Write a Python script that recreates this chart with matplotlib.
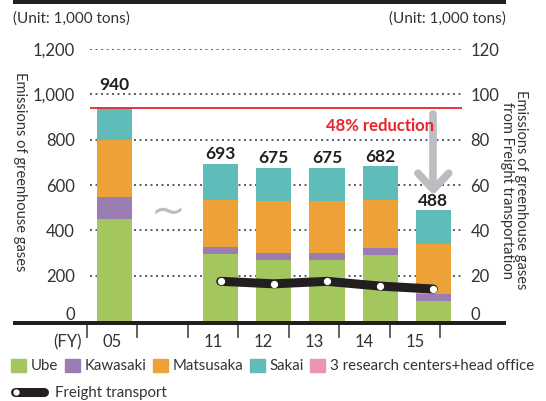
import matplotlib
matplotlib.use("Agg")
import matplotlib.pyplot as plt
import numpy as np
from matplotlib.patches import Patch, Rectangle
from matplotlib.lines import Line2D
from matplotlib.legend_handler import HandlerBase
import matplotlib.transforms as mtransforms

plt.rcParams['font.family'] = ['Lato', 'DejaVu Sans']

# ---- data ----
years = ["05", "", "11", "12", "13", "14", "15"]
bar_slots = [0, 2, 3, 4, 5, 6]
ube = [450, 295, 270, 270, 292, 88]
kawasaki = [95, 30, 30, 30, 30, 30]
matsusaka = [255, 210, 230, 230, 210, 220]
sakai = [140, 158, 145, 145, 150, 150]
research = [0, 0, 0, 0, 0, 0]
totals = [940, 693, 675, 675, 682, 488]
freight_slots = [2, 3, 4, 5, 6]
freight = [17.5, 16.4, 17.5, 15.4, 14.1]
left_ticks = [0, 200, 400, 600, 800, 1000, 1200]
right_ticks = [0, 20, 40, 60, 80, 100, 120]
baseline_value = 940

colors = {"Ube": "#a3c65e", "Kawasaki": "#9b7db4", "Matsusaka": "#eca236",
          "Sakai": "#5fbcb8", "3 research centers+head office": "#ea95b2"}
TXT = "#333333"
DARK = "#231f20"

W, H = 546, 401
fig = plt.figure(figsize=(W / 100, H / 100), dpi=100)

def fx(px):
    return px / W

def fy(py):
    return 1 - py / H

ax_l, ax_r, ax_b, ax_t = 90, 462, 321, 49
ax = fig.add_axes([fx(ax_l), fy(ax_b), fx(ax_r - ax_l), (ax_b - ax_t) / H])
ax.set_xlim(-0.46, 6.54)
ax.set_ylim(0, 1200)
for s in ax.spines.values():
    s.set_visible(False)

# gridlines
for v in left_ticks[1:]:
    ax.axhline(v, color="#444444", lw=1.2, ls=(0, (1.2, 2.1)), zorder=0)

# bars
x = np.array(bar_slots, dtype=float)
bw = 0.66
bottom = np.zeros(len(x))
for name, vals in [("Ube", ube), ("Kawasaki", kawasaki), ("Matsusaka", matsusaka),
                   ("Sakai", sakai), ("3 research centers+head office", research)]:
    ax.bar(x, vals, bw, bottom=bottom, color=colors[name], zorder=2, linewidth=0)
    bottom += np.array(vals)

for i, (xi, t) in enumerate(zip(x, totals)):
    off = 100 if i == 0 else 42
    ax.text(xi, t + off, f"{t}", ha="center", va="center", fontsize=12.5,
            fontweight="bold", color=DARK, zorder=5)

# red baseline
ax.axhline(baseline_value, color="#e8232d", lw=1.3, zorder=3)
ax.text(5.0, 862, "48% reduction", color="#e8232d", fontsize=12,
        fontweight="bold", ha="center", va="center", zorder=5)

# gray arrow
ag = "#bcbdc0"
ax.plot([6, 6], [912, 585], color=ag, lw=5.5, solid_capstyle="round", zorder=4)
ax.plot([5.71, 6, 6.29], [652, 580, 652], color=ag, lw=5.5,
        solid_capstyle="round", solid_joinstyle="round", zorder=4)

# tilde
ax.text(1.0, 480, "~", color="#bdbec1", fontsize=30, ha="center", va="center",
        family="DejaVu Sans")

# y tick labels
ax.set_yticks(left_ticks)
ax.set_yticklabels([f"{v:,}" for v in left_ticks])
ax.tick_params(axis="y", length=0, pad=11, labelsize=12, labelcolor=TXT)
ax.set_xticks([])

ax2 = ax.twinx()
ax2.set_ylim(0, 120)
for s in ax2.spines.values():
    s.set_visible(False)
ax2.set_yticks(right_ticks)
ax2.set_yticklabels([str(v) for v in right_ticks])
ax2.tick_params(axis="y", length=0, pad=6, labelsize=12, labelcolor=TXT)

# lift the zero labels above the baseline
lift = mtransforms.ScaledTranslation(0, 8 / 100, fig.dpi_scale_trans)
for a in (ax, ax2):
    t0 = a.yaxis.get_major_ticks()[0]
    for lab in (t0.label1, t0.label2):
        lab.set_transform(lab.get_transform() + lift)

# freight line
ax2.plot(freight_slots, freight, color=DARK, lw=6.5, solid_capstyle="round",
         solid_joinstyle="round", zorder=6)
ax2.plot(freight_slots, freight, ls="none", marker="o", ms=4.2, mfc="white",
         mec="white", zorder=7)

# x ticks (boundaries) and labels
tick_step = 0.95
bounds = -0.52 + tick_step * np.arange(8)
trans = mtransforms.blended_transform_factory(ax.transData, ax.transAxes)
tick_len = 13 / (ax_b - ax_t)
for b in bounds:
    ax.plot([b, b], [-0.012, -tick_len - 0.012], transform=trans, color="#555555",
            lw=1.3, clip_on=False)
mids = (bounds[:-1] + bounds[1:]) / 2
for m, lab in zip(mids, years):
    if lab:
        ax.text(m, -0.077, lab, transform=trans, ha="center", va="center",
                fontsize=12, color=TXT, clip_on=False)
ax.text(-0.88, -0.077, "(FY)", transform=trans, ha="center", va="center",
        fontsize=12, color=TXT, clip_on=False)

# baseline and top rule
fig.add_artist(Rectangle((fx(13), fy(325)), fx(506 - 13), 4 / H,
                         transform=fig.transFigure, color=DARK, lw=0))
fig.add_artist(Rectangle((fx(13), fy(4)), fx(506 - 13), 4 / H,
                         transform=fig.transFigure, color=DARK, lw=0))

# unit labels
fig.text(fx(13), fy(19), "(Unit: 1,000 tons)", ha="left", va="center",
         fontsize=11, color=TXT)
fig.text(fx(506), fy(19), "(Unit: 1,000 tons)", ha="right", va="center",
         fontsize=11, color=TXT)

# axis titles
fig.text(fx(20), fy(172), "Emissions of greenhouse gases", rotation=270,
         ha="center", va="center", fontsize=10.5, color=TXT)
fig.text(fx(514), fy(190), "Emissions of greenhouse gases\nfrom Freight transportation",
         rotation=270, ha="center", va="center", fontsize=10.5, color=TXT,
         linespacing=0.95)

# legends
handles = [Patch(color=c, label=n) for n, c in colors.items()]
leg = fig.legend(handles=handles, loc="center left",
                 bbox_to_anchor=(fx(11), fy(366)), ncol=5, frameon=False,
                 fontsize=10.8, handlelength=1.0, handleheight=1.0,
                 handletextpad=0.3, columnspacing=0.45, borderpad=0,
                 borderaxespad=0, labelcolor=TXT)


class FreightHandler(HandlerBase):
    def create_artists(self, legend, orig_handle, xdescent, ydescent, width,
                       height, fontsize, trans):
        y = height / 2 - ydescent
        l = Line2D([3, width - 3], [y, y], color=DARK, lw=6.5,
                   solid_capstyle="round", transform=trans)
        d = Line2D([3.5], [y], marker="o", ms=3.5, mfc="white", mec="white",
                   ls="none", transform=trans)
        return [l, d]


fh = Line2D([], [], label="Freight transport")
leg2 = fig.legend(handles=[fh], handler_map={Line2D: FreightHandler()},
                  loc="center left", bbox_to_anchor=(fx(11), fy(393)),
                  frameon=False, fontsize=10.8, handlelength=2.5,
                  handletextpad=0.45, borderpad=0, borderaxespad=0,
                  labelcolor=TXT)

fig.savefig("out.png", dpi=100)
